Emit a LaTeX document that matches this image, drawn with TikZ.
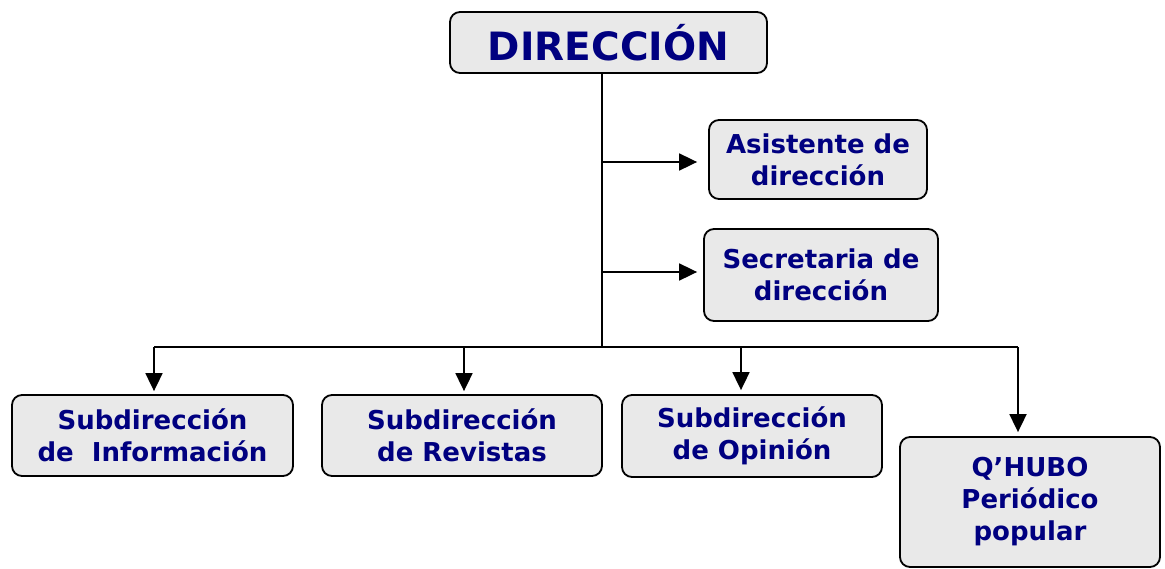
\documentclass[tikz,border=0pt]{standalone}
\usepackage{fontspec}
\setmainfont{DejaVu Sans}
\usetikzlibrary{arrows.meta}
\definecolor{navy}{RGB}{0,0,128}
\definecolor{boxgray}{RGB}{233,233,233}
\begin{document}
\begin{tikzpicture}[x=1pt,y=-1pt,
  box/.style={draw=black, line width=1.8pt, fill=boxgray, rounded corners=10pt,
    text=navy, font=\bfseries\fontsize{26}{32}\selectfont, align=center, inner sep=0pt},
  conn/.style={draw=black, line width=1.8pt},
  arr/.style={conn, -{Triangle[length=18pt,width=17pt]}}]
\useasboundingbox (0,0) rectangle (1165,568);
\fill[white] (0,0) rectangle (1165,568);
\node[box, minimum width=317pt, minimum height=61pt, font=\bfseries\fontsize{39}{44}\selectfont] (dir) at (608.5,42.5) {DIRECCIÓN};
\node[box, minimum width=218pt, minimum height=79pt] (asis) at (818,159.5) {Asistente de\\dirección};
\node[box, minimum width=234pt, minimum height=92pt] (secr) at (821,275) {Secretaria de\\dirección};
\node[box, minimum width=281pt, minimum height=81pt] (info) at (152.5,435.5) {Subdirección\\de\ \ Información};
\node[box, minimum width=280pt, minimum height=81pt] (rev) at (462,435.5) {Subdirección\\de Revistas};
\node[box, minimum width=260pt, minimum height=82pt] (opin) at (752,436) {Subdirección\\de Opinión};
\node[box, minimum width=260pt, minimum height=130pt] (qh) at (1030,502) {Q’HUBO\\Periódico\\popular};
\coordinate (t) at ([xshift=-6.5pt]dir.south);
\coordinate (a1) at (602,162);
\coordinate (a2) at (602,272);
\coordinate (b1) at (154,347);
\coordinate (b2) at (464,347);
\coordinate (b3) at (741,347);
\coordinate (b4) at (1018,347);
\coordinate (tb) at (t |- b1);
\draw[conn] (t) -- (tb);
\draw[conn] (b1) -- (b4);
\draw[arr, shorten >=11pt] (a1) -- (a1 -| asis.west);
\draw[arr, shorten >=6pt] (a2) -- (a2 -| secr.west);
\draw[arr, shorten >=3pt] (b1) -- (b1 |- info.north);
\draw[arr, shorten >=3pt] (b2) -- (b2 |- rev.north);
\draw[arr, shorten >=4pt] (b3) -- (b3 |- opin.north);
\draw[arr, shorten >=4pt] (b4) -- (b4 |- qh.north);
\end{tikzpicture}
\end{document}
